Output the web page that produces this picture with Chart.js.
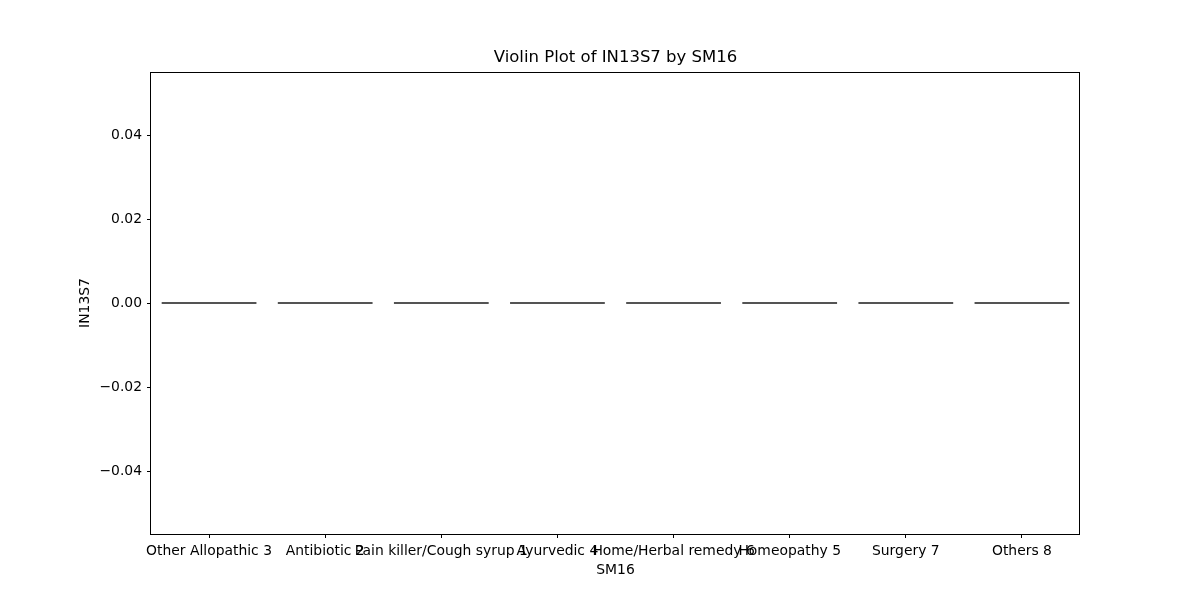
<!DOCTYPE html>
<html>
<head>
<meta charset="utf-8">
<script src="https://cdn.jsdelivr.net/npm/chart.js@4/dist/chart.umd.min.js"></script>
<style>
  html, body { margin: 0; padding: 0; background: #fff; }
  #wrap { width: 1200px; height: 600px; }
</style>
</head>
<body>
<div id="wrap"><canvas id="c" width="1200" height="600"></canvas></div>
<script>
const categories = ["Other Allopathic 3", "Antibiotic 2", "Pain killer/Cough syrup 1", "Ayurvedic 4", "Home/Herbal remedy 6", "Homeopathy 5", "Surgery 7", "Others 8"];
const values = [0, 0, 0, 0, 0, 0, 0, 0];
const yTicks = [-0.04, -0.02, 0.00, 0.02, 0.04];
const yRange = [-0.055, 0.055];
const titleText = 'Violin Plot of IN13S7 by SM16';

const HALF = 0.408;
const FONT = "'DejaVu Sans', sans-serif";

const datasets = categories.map((c, i) => ({
  label: c,
  data: [{x: i - HALF, y: values[i]}, {x: i + HALF, y: values[i]}],
  showLine: true,
  borderColor: '#545454',
  borderWidth: 2,
  pointRadius: 0,
  fill: false
}));

const frame = {
  id: 'frame',
  afterDatasetsDraw(chart) {
    const a = chart.chartArea, ctx = chart.ctx;
    ctx.save();
    ctx.strokeStyle = '#000';
    ctx.lineWidth = 1;
    ctx.strokeRect(Math.round(a.left) - 0.5, Math.round(a.top) + 0.5, Math.round(a.right - a.left), Math.round(a.bottom - a.top));
    ctx.restore();
  },
  afterDraw(chart) {
    const a = chart.chartArea, ctx = chart.ctx;
    ctx.save();
    ctx.fillStyle = '#000';
    ctx.font = "16.5px " + FONT;
    ctx.textAlign = 'center';
    ctx.textBaseline = 'middle';
    ctx.fillText(titleText, (a.left + a.right) / 2, 58);
    ctx.restore();
  }
};

const fmt = v => {
  const s = Math.abs(v).toFixed(2);
  return v < -1e-12 ? '\u2212' + s : s;
};

new Chart(document.getElementById('c'), {
  type: 'scatter',
  data: { datasets },
  plugins: [frame],
  options: {
    responsive: false,
    animation: false,
    layout: { padding: { left: 0, right: 120, top: 72, bottom: 0 } },
    plugins: {
      legend: { display: false },
      tooltip: { enabled: false },
      title: { display: false }
    },
    scales: {
      x: {
        type: 'linear',
        min: -0.5,
        max: categories.length - 0.5,
        afterBuildTicks: s => { s.ticks = categories.map((c, i) => ({ value: i })); },
        afterFit: s => { s.height = 66; },
        ticks: {
          autoSkip: false,
          maxRotation: 0,
          minRotation: 0,
          color: '#000',
          padding: 5,
          font: { family: FONT, size: 13.9 },
          callback: v => categories[v]
        },
        grid: { display: true, drawOnChartArea: false, tickLength: 4, color: '#000', lineWidth: 1 },
        border: { display: false },
        title: {
          display: true,
          text: 'SM16',
          color: '#000',
          font: { family: FONT, size: 13.9, lineHeight: 1.2 },
          padding: { top: 0, bottom: 21.7 }
        }
      },
      y: {
        type: 'linear',
        min: yRange[0],
        max: yRange[1],
        afterBuildTicks: s => { s.ticks = yTicks.map(v => ({ value: v })); },
        afterFit: s => { s.width = 151; },
        ticks: {
          color: '#000',
          padding: 5,
          font: { family: FONT, size: 13.9 },
          callback: v => fmt(v)
        },
        grid: { display: true, drawOnChartArea: false, tickLength: 4, color: '#000', lineWidth: 1 },
        border: { display: false },
        title: {
          display: true,
          text: 'IN13S7',
          color: '#000',
          font: { family: FONT, size: 13.9, lineHeight: 1.2 },
          padding: { top: 77.5, bottom: 0 }
        }
      }
    }
  }
});
</script>
</body>
</html>
